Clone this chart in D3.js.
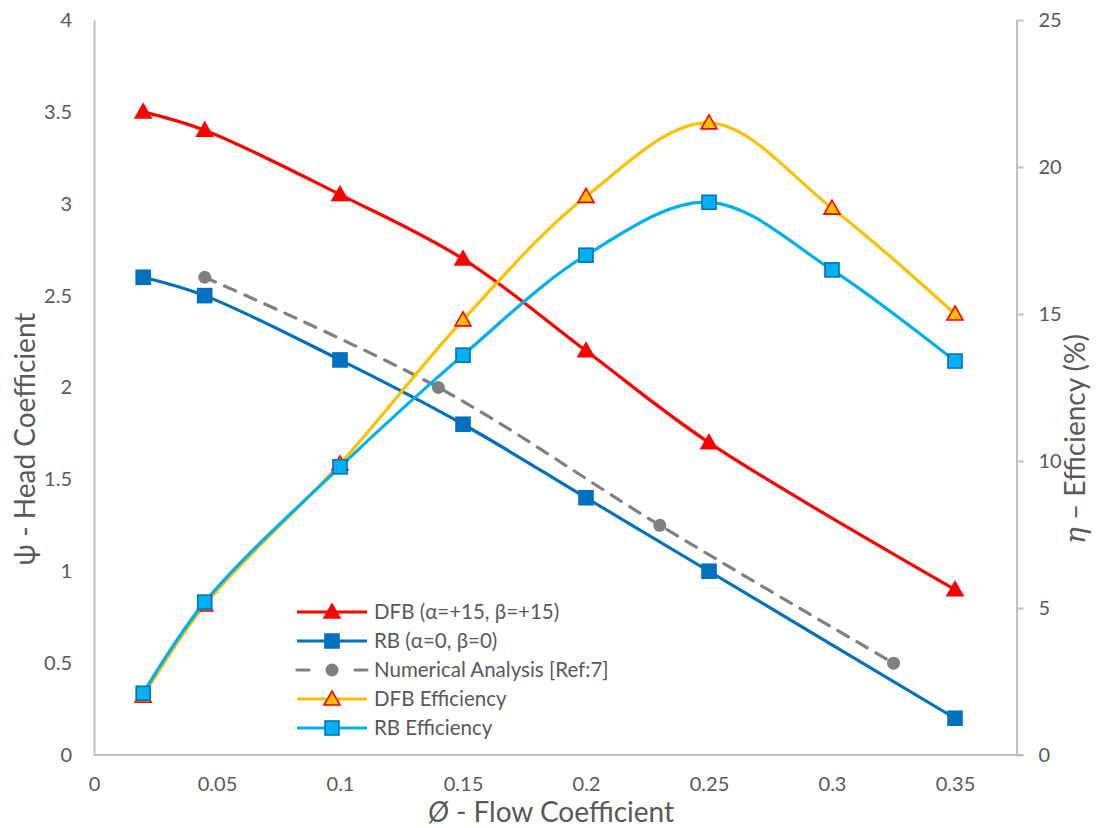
<!DOCTYPE html>
<html>
<head>
<meta charset="utf-8">
<script src="https://cdn.jsdelivr.net/npm/d3@7"></script>
<style>
  html, body { margin: 0; padding: 0; background: #fff; }
  svg { display: block; font-family: Lato, "Noto Sans", sans-serif; }
</style>
</head>
<body>
<svg id="chart" width="1099" height="828"></svg>
<script>
// Flow coefficient sample points
const phiHead = [0.02, 0.045, 0.1, 0.15, 0.2, 0.25, 0.35];
const phiEff = [0.02, 0.045, 0.1, 0.15, 0.2, 0.25, 0.3, 0.35];
const phiNum = [0.045, 0.14, 0.23, 0.325];

// Head coefficient (left axis)
const dfbHead = [3.5, 3.4, 3.05, 2.7, 2.2, 1.7, 0.9];
const rbHead = [2.6, 2.5, 2.15, 1.8, 1.4, 1.0, 0.2];
const numHead = [2.6, 2.0, 1.25, 0.5];

// Efficiency in % (right axis)
const dfbEff = [2.0, 5.1, 9.9, 14.8, 19.0, 21.5, 18.6, 15.0];
const rbEff = [2.1, 5.2, 9.8, 13.6, 17.0, 18.8, 16.5, 13.4];

// Axis ticks
const xTicks = [0, 0.05, 0.1, 0.15, 0.2, 0.25, 0.3, 0.35];
const xTickLabels = ["0", "0.05", "0.1", "0.15", "0.2", "0.25", "0.3", "0.35"];
const yLeftTicks = [0, 0.5, 1, 1.5, 2, 2.5, 3, 3.5, 4];
const yRightTicks = [0, 5, 10, 15, 20, 25];

const legendLabels = [
  "DFB (α=+15, β=+15)",
  "RB (α=0, β=0)",
  "Numerical Analysis [Ref:7]",
  "DFB Efficiency",
  "RB Efficiency"
];

const svg = d3.select("#chart");
const plotLeft = 94, plotRight = 1016.5, plotTop = 20, plotBottom = 755;
const textColor = "#595959";
const axisColor = "#bfbfbf";

const x = d3.scaleLinear().domain([0, 0.375]).range([plotLeft, plotRight]);
const yL = d3.scaleLinear().domain([0, 4]).range([plotBottom, plotTop]);
const yR = d3.scaleLinear().domain([0, 25]).range([plotBottom, plotTop]);

// Bottom axis (line only, labels below)
const xAxis = d3.axisBottom(x).tickValues(xTicks)
  .tickFormat((d, i) => xTickLabels[i]).tickSize(0).tickPadding(22);
const gx = svg.append("g").attr("transform", `translate(0,${plotBottom})`).call(xAxis);
gx.select(".domain").attr("stroke", axisColor).attr("stroke-width", 2)
  .attr("d", `M${plotLeft},0H${plotRight + 7}`);
gx.selectAll("text").attr("fill", textColor).attr("font-size", 20)
  .attr("font-family", "Lato, sans-serif");

// Left axis
const yAxisL = d3.axisLeft(yL).tickValues(yLeftTicks).tickFormat(d3.format("")).tickSize(0).tickPadding(22);
const gyl = svg.append("g").attr("transform", `translate(${plotLeft},0)`).call(yAxisL);
gyl.select(".domain").attr("stroke", axisColor).attr("stroke-width", 2);
gyl.selectAll("text").attr("fill", textColor).attr("font-size", 20)
  .attr("font-family", "Lato, sans-serif");

// Right axis with outward ticks
const yAxisR = d3.axisRight(yR).tickValues(yRightTicks).tickSizeInner(7).tickSizeOuter(0).tickPadding(15);
const gyr = svg.append("g").attr("transform", `translate(${plotRight},0)`).call(yAxisR);
gyr.select(".domain").attr("stroke", axisColor).attr("stroke-width", 2);
gyr.selectAll(".tick line").attr("stroke", axisColor).attr("stroke-width", 2);
gyr.selectAll("text").attr("fill", textColor).attr("font-size", 20)
  .attr("font-family", "Lato, sans-serif");

// Axis titles
svg.append("text").attr("x", 551).attr("y", 822).attr("text-anchor", "middle")
  .attr("fill", textColor).attr("font-size", 28)
  .call(t => {
    t.append("tspan").attr("font-style", "italic").text("Ø");
    t.append("tspan").text("  - Flow Coefficient");
  });

svg.append("text").attr("transform", "translate(35,439) rotate(-90)")
  .attr("text-anchor", "middle").attr("fill", textColor).attr("font-size", 28)
  .text("ψ - Head Coefficient");

svg.append("text").attr("transform", "translate(1085,439) rotate(-90)")
  .attr("text-anchor", "middle").attr("fill", textColor).attr("font-size", 28)
  .call(t => {
    t.append("tspan").attr("font-style", "italic").attr("font-family", "DejaVu Serif, serif").text("η");
    t.append("tspan").text(" – Efficiency (%)");
  });

// Series definitions
const series = [
  { xs: phiHead, ys: dfbHead, y: yL, color: "#ff0000", dash: null, marker: "triangle", fill: "#ff0000", stroke: "#ff0000" },
  { xs: phiHead, ys: rbHead, y: yL, color: "#0070c0", dash: null, marker: "square", fill: "#0070c0", stroke: "#0070c0" },
  { xs: phiNum, ys: numHead, y: yL, color: "#808080", dash: "12,10", marker: "circle", fill: "#808080", stroke: "#808080" },
  { xs: phiEff, ys: dfbEff, y: yR, color: "#ffc000", dash: null, marker: "triangle", fill: "#ffc000", stroke: "#ff0000" },
  { xs: phiEff, ys: rbEff, y: yR, color: "#00b0f0", dash: null, marker: "square", fill: "#00b0f0", stroke: "#0070c0" }
];

function drawMarker(g, type, cx, cy, fill, stroke) {
  if (type === "triangle") {
    g.append("path")
      .attr("d", `M${cx},${cy - 8}L${cx + 8},${cy + 6}L${cx - 8},${cy + 6}Z`)
      .attr("fill", fill).attr("stroke", stroke).attr("stroke-width", 1.6);
  } else if (type === "square") {
    g.append("rect").attr("x", cx - 7).attr("y", cy - 7).attr("width", 14).attr("height", 14)
      .attr("fill", fill).attr("stroke", stroke).attr("stroke-width", 1.6);
  } else {
    g.append("circle").attr("cx", cx).attr("cy", cy).attr("r", 6.5).attr("fill", fill);
  }
}

series.forEach(s => {
  const pts = s.xs.map((v, i) => [x(v), s.y(s.ys[i])]);
  const line = d3.line().curve(d3.curveCatmullRom.alpha(0.5));
  svg.append("path").attr("d", line(pts)).attr("fill", "none")
    .attr("stroke", s.color).attr("stroke-width", 3.2)
    .attr("stroke-dasharray", s.dash).attr("stroke-linecap", s.dash ? "round" : "butt");
  const gm = svg.append("g");
  pts.forEach(p => drawMarker(gm, s.marker, p[0], p[1], s.fill, s.stroke));
});

// Legend
const lg = svg.append("g");
const legendY0 = 612, legendStep = 29;
series.forEach((s, i) => {
  const yy = legendY0 + i * legendStep;
  const segs = s.dash ? [[297, 309], [355, 367]] : [[297, 367]];
  segs.forEach(([a, b]) => {
    lg.append("line").attr("x1", a).attr("x2", b).attr("y1", yy).attr("y2", yy)
      .attr("stroke", s.color).attr("stroke-width", 3.2)
      .attr("stroke-linecap", s.dash ? "round" : "butt");
  });
  drawMarker(lg, s.marker, 332, yy, s.fill, s.stroke);
  lg.append("text").attr("x", 374).attr("y", yy).attr("dy", "0.35em")
    .attr("fill", textColor).attr("font-size", 20.5).text(legendLabels[i]);
});
</script>
</body>
</html>
